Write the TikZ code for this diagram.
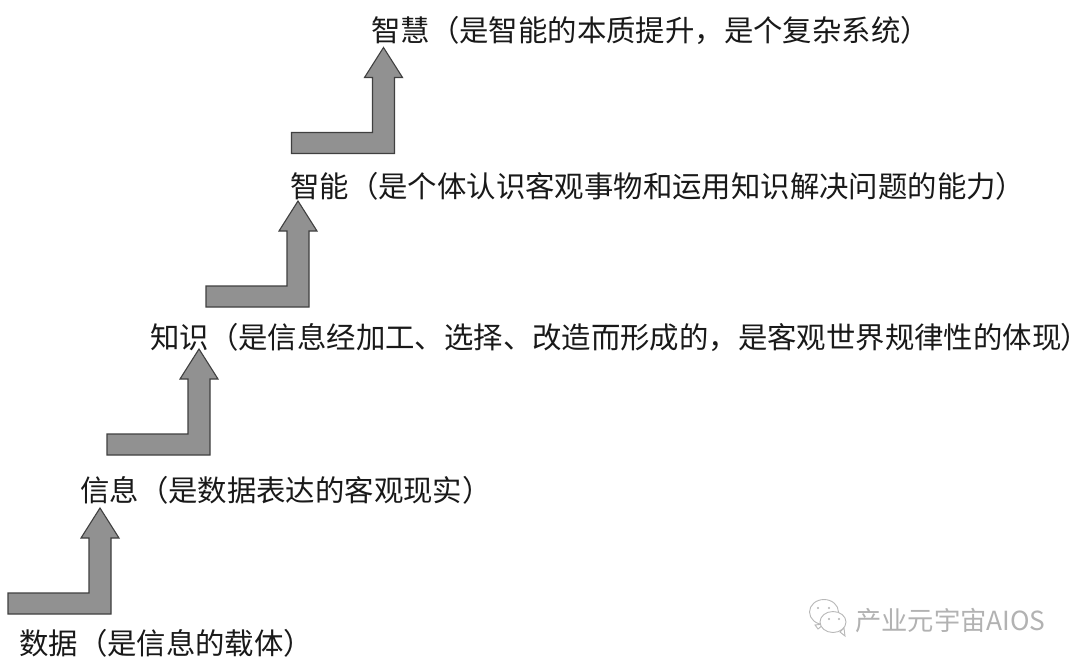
\documentclass[tikz,border=0pt]{standalone}
\usepackage{fontspec}
\newfontfamily\cjk{Noto Sans CJK SC}
\newcommand{\steparrow}[3]{%
  \draw[arrowshape] (#1,#2) -- ++(0,-21) -- ++(81,0) -- ++(0,-55) -- ++(-8,0) -- ++(19,-30) -- ++(19,30) -- ++(-8,0) -- ++(0,76) -- cycle;
  \coordinate (#3) at (#1,#2);}
\tikzset{
  x=1pt,y=-1pt,
  arrowshape/.style={draw=black!75,line width=1.1pt,fill=black!43,line join=miter},
  lab/.style={anchor=west,inner sep=0pt,font=\cjk\fontsize{29.4}{31}\selectfont,text=black!90},
  wm/.style={anchor=west,inner sep=0pt,font=\cjk\fontsize{26.3}{28}\selectfont,text=black!30},
  bubble/.style={draw=black!28,line width=0.9pt,fill=white}
}
\begin{document}
\begin{tikzpicture}
\useasboundingbox (0,0) rectangle (1080,667);
\fill[white] (0,0) rectangle (1080,667);
\steparrow{8}{614}{a1}
\steparrow{107}{455}{a2}
\steparrow{206}{307}{a3}
\steparrow{291.5}{153.5}{a4}
\node[lab] (n5) at (371,30) {智慧（是智能的本质提升，是个复杂系统）};
\node[lab] (n4) at (290,186) {智能（是个体认识客观事物和运用知识解决问题的能力）};
\node[lab] (n3) at (150,337) {知识（是信息经加工、选择、改造而形成的，是客观世界规律性的体现{\addfontfeature{RawFeature=+palt}）}};
\node[lab] (n2) at (80,490) {信息（是数据表达的客观现实）};
\node[lab] (n1) at (19,643) {数据（是信息的载体）};
% watermark
\draw[bubble] (815,625) -- (818,629) -- (824,624) -- cycle;
\draw[bubble] (824,612) ellipse (14.5 and 12.5);
\draw[bubble] (840,632) -- (845,636) -- (844,628) -- cycle;
\draw[bubble] (833,622) ellipse (13 and 10.5);
\fill[black!30] (818,608) circle (1.1) (829,608) circle (1.1) (829,619) circle (1.1) (839,619) circle (1.1);
\node[wm] (w) at (855,620) {产业元宇宙AIOS};
\end{tikzpicture}
\end{document}
